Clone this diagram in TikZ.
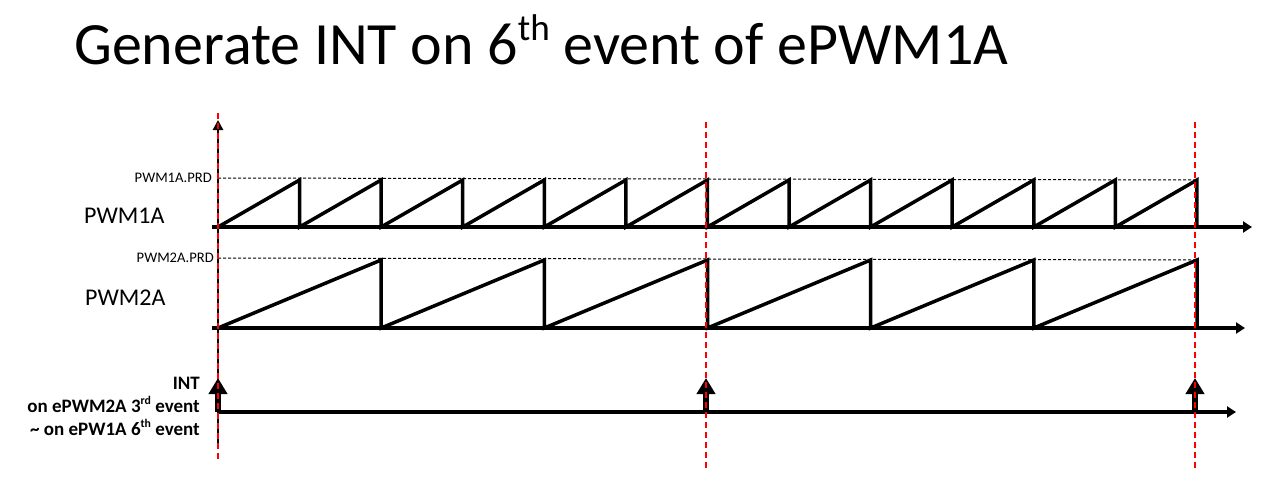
\documentclass[tikz,border=0pt]{standalone}
\usepackage{fontspec}
\usepackage{graphicx}
\setmainfont{Carlito}
\usetikzlibrary{arrows.meta, positioning, calc}
\newcommand{\supx}[1]{\raisebox{0.4em}{\scalebox{0.62}{#1}}}

\begin{document}
\begin{tikzpicture}[x=1pt, y=-1pt,
    axis/.style={line width=3.5pt, -{Triangle[length=9pt,width=11pt]}},
    yaxis/.style={line width=2.5pt, -{Triangle[length=10pt,width=10pt]}},
    wave/.style={line width=3.5pt, line join=miter, line cap=butt},
    prdline/.style={line width=1pt, dash pattern=on 3pt off 2pt},
    evline/.style={red, line width=1.2pt, dash pattern=on 6pt off 4pt},
    intarrow/.style={line width=6pt, -{Triangle[length=16pt,width=18pt]}},
    sig/.style={font=\fontsize{24}{27}\selectfont, anchor=west, inner sep=0pt},
    prd/.style={font=\fontsize{14.6}{16}\selectfont, anchor=east, inner sep=1pt},
    intlbl/.style={font=\bfseries\fontsize{19}{23}\selectfont, align=right, anchor=north east, inner sep=0pt},
]
    \useasboundingbox (0,0) rectangle (1262,503);

    % title
    \node[anchor=base west, inner sep=0pt, font=\fontsize{60}{66}\selectfont] (title) at (74,65)
        {Generate INT on 6\supx{th} event of ePWM1A};

    % axes
    \coordinate (ybot) at (218,445);
    \coordinate (ytop) at (218,120);
    \coordinate (o1) at (218,227);
    \coordinate (e1) at (1252,227);
    \coordinate (o2) at (218,328);
    \coordinate (e2) at (1245,328);
    \coordinate (o3) at (218,412);
    \coordinate (e3) at (1236,412);

    \draw[yaxis] (ybot) -- (ytop);

    % PWM1A
    \node[prd] (prd1) at (213,178) {PWM1A.PRD};
    \draw[prdline] (o1 |- prd1.east) -- (1197,180);
    \node[sig] (pwm1) at (84,216) {PWM1A};
    \draw[wave] (o1) \foreach \i in {1,...,12} { -- ++(81.58,-47) -- ++(0,47) };
    \draw[axis] ($(o1)+(-6,0)$) -- (e1);

    % PWM2A
    \node[prd] (prd2) at (215,258) {PWM2A.PRD};
    \draw[prdline] (o2 |- prd2.east) -- (1197,260);
    \node[sig] (pwm2) at (85,298) {PWM2A};
    \draw[wave] (o2) \foreach \i in {1,...,6} { -- ++(163.17,-68) -- ++(0,68) };
    \draw[axis] ($(o2)+(-6,0)$) -- (e2);

    % INT
    \node[intlbl] (intl) at (200,377) {INT\\on ePWM2A 3\supx{rd} event\\\textasciitilde{} on ePW1A 6\supx{th} event};
    \draw[axis] (o3) -- (e3);
    \coordinate (i1) at (218,378);
    \coordinate (i2) at (706,378);
    \coordinate (i3) at (1195,378);
    \draw[intarrow] (o3) -- (i1);
    \draw[intarrow] (o3 -| i2) -- (i2);
    \draw[intarrow] (o3 -| i3) -- (i3);

    % event markers
    \draw[evline] (218,113) -- (218,460);
    \draw[evline] (706,122) -- (706,468);
    \draw[evline] (1195,122) -- (1195,468);
\end{tikzpicture}
\end{document}
